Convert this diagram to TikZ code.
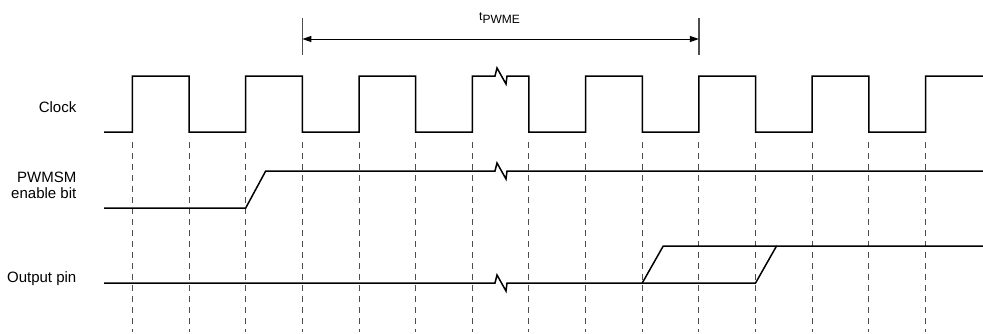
\documentclass[tikz,border=0pt]{standalone}
\usepackage{fontspec}
\setmainfont{Liberation Sans}
\usepackage{tikz}
\usetikzlibrary{arrows.meta}
\definecolor{sigc}{HTML}{000000}
\definecolor{gridc}{HTML}{4D4D4D}
\tikzset{
  sig/.style={line width=1.5pt,sigc,line join=miter},
  grid/.style={gridc,line width=1pt,dash pattern=on 6pt off 5pt},
  dim/.style={{Triangle[length=9pt,width=6pt]}-{Triangle[length=9pt,width=6pt]},line width=1pt,sigc},
  lbl/.style={anchor=base east,align=right,inner sep=0pt,font=\fontsize{15}{16}\selectfont}
}
\newcommand\edgex[1]{132.4+56.65*(#1)}

\begin{document}
\begin{tikzpicture}[x=1pt,y=-1pt]
\useasboundingbox (0,0) rectangle (983,333);
\foreach \k in {0,...,14}{\draw[grid] ({\edgex{\k}},142) -- ++(0,190);}
\draw[sig] (104,132)
  foreach \k in {0,2,4}{-- ({\edgex{\k}},132) -- ++(0,-56) -- ({\edgex{\k+1}},76) -- ++(0,56)}
  -- ({\edgex{6}},132) -- ++(0,-56) -- (495,76) -- ++(2,-8) -- ++(9,16) -- ++(1,-8) -- ({\edgex{7}},76) -- ++(0,56)
  foreach \k in {8,10,12}{-- ({\edgex{\k}},132) -- ++(0,-56) -- ({\edgex{\k+1}},76) -- ++(0,56)}
  -- ({\edgex{14}},132) -- ++(0,-56) -- (983,76);
\draw[sig] (104,208) -- ({\edgex{2}},208) -- ++(20,-37) -- (495,171) -- ++(2,-8) -- ++(9,16) -- ++(1,-8) -- (983,171);
\draw[sig] (104,283) -- (495,283) -- ++(2,-8) -- ++(9,16) -- ++(1,-8) -- ({\edgex{11}},283) -- ++(21,-37) -- (983,246);
\draw[sig] ({\edgex{9}},283) -- ++(21,-37) -- ({\edgex{11}+21},246);
\draw[gridc,line width=1.2pt] ({\edgex{3}},18) -- ++(0,37) ({\edgex{10}},18) -- ++(0,37);
\coordinate (pwa) at ({\edgex{3}},39);
\coordinate (pwb) at ({\edgex{10}},39);
\draw[dim] (pwa) -- (pwb);
\node[anchor=base,inner sep=0pt,font=\fontsize{12}{12}\selectfont] (tpwme) at (499.5,20) {t\raisebox{-3pt}{PWME}};
\node[lbl] (clk) at (76.5,112) {Clock};
\node[lbl,anchor=east] (pwmsm) at (76.5,185.5) {PWMSM\\enable bit};
\node[lbl] (outp) at (76.5,282) {Output pin};
\end{tikzpicture}
\end{document}
